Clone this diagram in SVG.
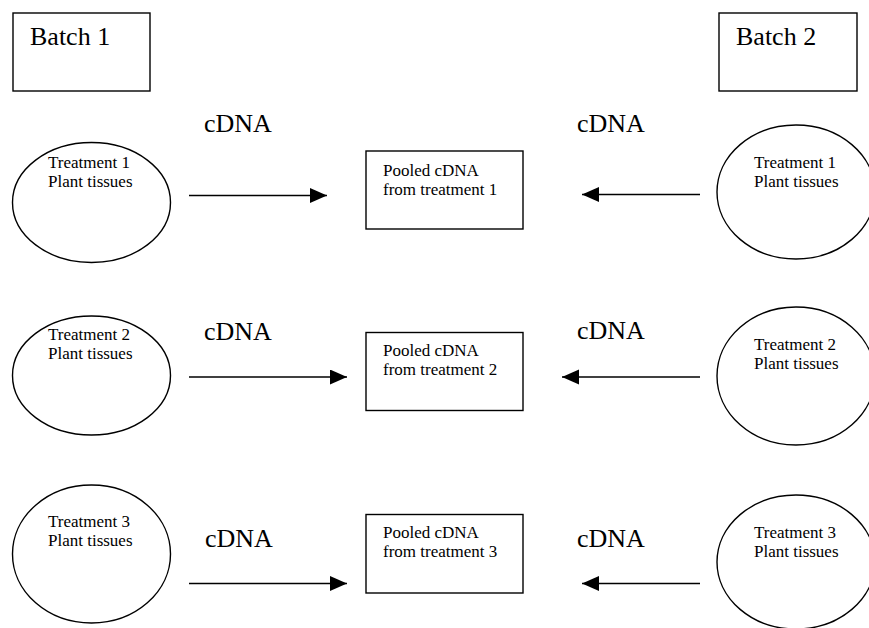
<svg xmlns="http://www.w3.org/2000/svg" width="869" height="628" viewBox="0 0 869 628">
<style>
  .shape { fill: #ffffff; stroke: #000000; stroke-width: 1.4; }
  .big { font-family: "Liberation Serif", "Times New Roman", "DejaVu Serif", serif; font-size: 26px; fill: #000; }
  .small { font-family: "Liberation Serif", "Times New Roman", "DejaVu Serif", serif; font-size: 17px; fill: #000; }
  .conn { stroke: #000; stroke-width: 1.4; fill: none; marker-end: url(#arrow); }
</style>
<defs>
  <marker id="arrow" markerUnits="userSpaceOnUse" markerWidth="18" markerHeight="16" refX="17" refY="7.5" orient="auto">
    <path d="M0,0 L17,7.5 L0,15 z" fill="#000"/>
  </marker>
</defs>
<rect width="869" height="628" fill="#ffffff"/>

<g id="batch1">
  <rect class="shape" x="13" y="13" width="137" height="78"/>
  <text class="big" x="30" y="45">Batch 1</text>
</g>
<g id="batch2">
  <rect class="shape" x="719" y="13" width="138" height="78"/>
  <text class="big" x="736" y="44.5">Batch 2</text>
</g>

<g id="b1-t1">
  <ellipse class="shape" cx="91.5" cy="202.5" rx="79" ry="60"/>
  <text class="small" x="48" y="168">Treatment 1</text>
  <text class="small" x="48" y="187">Plant tissues</text>
</g>
<g id="b1-t2">
  <ellipse class="shape" cx="91.5" cy="375.5" rx="79" ry="59.5"/>
  <text class="small" x="48" y="340">Treatment 2</text>
  <text class="small" x="48" y="358.5">Plant tissues</text>
</g>
<g id="b1-t3">
  <ellipse class="shape" cx="91.5" cy="554" rx="79" ry="69"/>
  <text class="small" x="48" y="527">Treatment 3</text>
  <text class="small" x="48" y="545.5">Plant tissues</text>
</g>

<g id="pool1">
  <rect class="shape" x="366" y="151" width="157" height="78"/>
  <text class="small" x="383" y="176">Pooled cDNA</text>
  <text class="small" x="383" y="194.5">from treatment 1</text>
</g>
<g id="pool2">
  <rect class="shape" x="366" y="332.5" width="157" height="78"/>
  <text class="small" x="383" y="356">Pooled cDNA</text>
  <text class="small" x="383" y="375">from treatment 2</text>
</g>
<g id="pool3">
  <rect class="shape" x="366" y="514.5" width="157" height="78.5"/>
  <text class="small" x="383" y="538">Pooled cDNA</text>
  <text class="small" x="383" y="557">from treatment 3</text>
</g>

<g id="b2-t1">
  <ellipse class="shape" cx="796" cy="192" rx="79" ry="67"/>
  <text class="small" x="754" y="168">Treatment 1</text>
  <text class="small" x="754" y="187">Plant tissues</text>
</g>
<g id="b2-t2">
  <ellipse class="shape" cx="796" cy="376" rx="79" ry="69"/>
  <text class="small" x="754" y="350">Treatment 2</text>
  <text class="small" x="754" y="369">Plant tissues</text>
</g>
<g id="b2-t3">
  <ellipse class="shape" cx="796" cy="562" rx="79" ry="67"/>
  <text class="small" x="754" y="538">Treatment 3</text>
  <text class="small" x="754" y="557">Plant tissues</text>
</g>

<g id="connectors">
  <line class="conn" x1="189" y1="195.5" x2="327" y2="195.5"/>
  <line class="conn" x1="189" y1="377" x2="347" y2="377"/>
  <line class="conn" x1="189" y1="583.5" x2="347" y2="583.5"/>
  <line class="conn" x1="700" y1="194.5" x2="582" y2="194.5"/>
  <line class="conn" x1="700" y1="377" x2="562" y2="377"/>
  <line class="conn" x1="700" y1="583.5" x2="582" y2="583.5"/>
  <text class="big" x="204" y="132">cDNA</text>
  <text class="big" x="204" y="340">cDNA</text>
  <text class="big" x="205" y="546.5">cDNA</text>
  <text class="big" x="577" y="132">cDNA</text>
  <text class="big" x="577" y="339">cDNA</text>
  <text class="big" x="577" y="546.5">cDNA</text>
</g>
</svg>
